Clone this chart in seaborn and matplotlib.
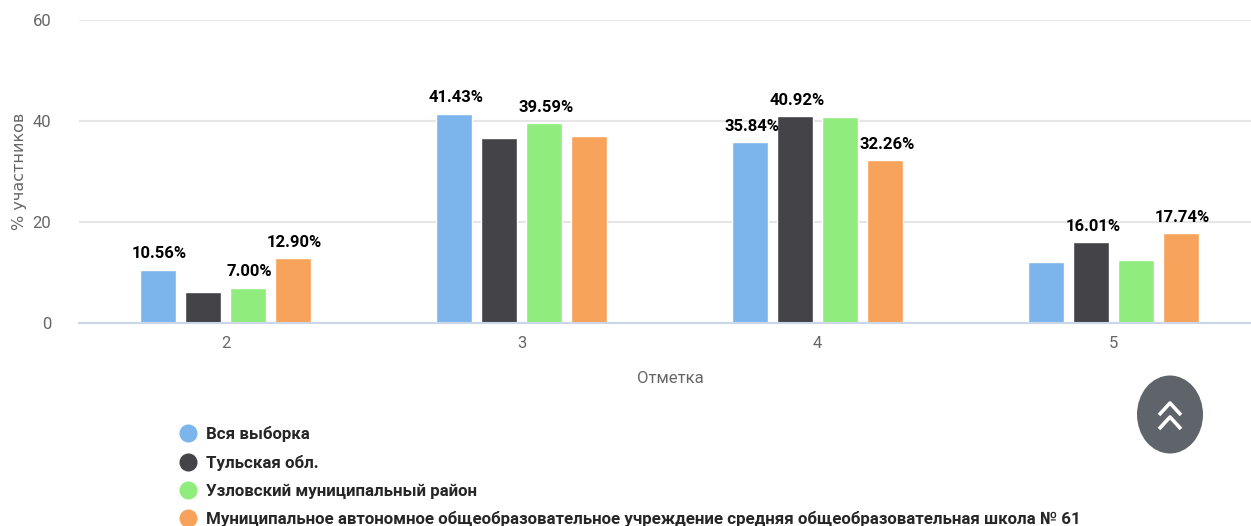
import matplotlib
matplotlib.use('Agg')
import matplotlib.pyplot as plt
from matplotlib.lines import Line2D
from matplotlib.patches import Ellipse
import pandas as pd
import seaborn as sns

# values
marks = ['2', '3', '4', '5']
vsya = [10.56, 41.43, 35.84, 12.0]
tula = [6.2, 36.7, 40.92, 16.01]
uzlov = [7.00, 39.59, 40.7, 12.4]
school = [12.90, 37.0, 32.26, 17.74]
series_names = ['Вся выборка', 'Тульская обл.', 'Узловский муниципальный район',
                'Муниципальное автономное общеобразовательное учреждение средняя общеобразовательная школа № 61']
colors = ['#7cb5ec', '#434348', '#90ed7d', '#f7a35c']

# only some of the bars have a label in the picture
labels_vsya = ['10.56%', '41.43%', '35.84%', '']
labels_tula = ['', '', '40.92%', '16.01%']
labels_uzlov = ['7.00%', '39.59%', '', '']
labels_school = ['12.90%', '', '32.26%', '17.74%']

sns.set_theme(style='white')
plt.rcParams['font.family'] = ['Roboto', 'DejaVu Sans']

df = pd.DataFrame({'mark': marks * 4,
                   'pct': vsya + tula + uzlov + school,
                   'series': sum([[n] * 4 for n in series_names], [])})

fig = plt.figure(figsize=(12.51, 5.26), dpi=100)
ax = fig.add_axes([79 / 1251, 1 - 323 / 526, 1 - 79 / 1251, 303 / 526])

sns.barplot(data=df, x='mark', y='pct', hue='series', order=marks, hue_order=series_names,
            palette=colors, width=0.608, gap=0.2, saturation=1, legend=False, ax=ax)

for cont, labs in zip(ax.containers, [labels_vsya, labels_tula, labels_uzlov, labels_school]):
    texts = ax.bar_label(cont, labels=labs, padding=6, fontsize=12, fontweight='bold', color='#000000')
    # labels sit a little right of the bar centre
    for t in texts:
        t.xyann = (1.2, t.xyann[1])

ax.set_xlim(-0.495, 3.464)
ax.set_ylim(0, 60)
ax.set_yticks([0, 20, 40, 60])
ax.yaxis.grid(True, color='#e6e6e6', lw=1.5)
ax.set_axisbelow(True)
sns.despine(ax=ax, left=True, right=True, top=True)
ax.spines['bottom'].set_color('#ccd6eb')
ax.spines['bottom'].set_linewidth(1.5)
ax.tick_params(axis='both', length=0, labelsize=12, labelcolor='#666666')
ax.tick_params(axis='x', pad=9)
ax.tick_params(axis='y', pad=20)

ax.set_ylabel('% участников', fontsize=11.5, color='#666666', family='DejaVu Sans')
ax.yaxis.set_label_coords(-52 / 1172, 0.5)
ax.set_xlabel('Отметка', fontsize=12, color='#666666')
ax.xaxis.set_label_coords((670 - 79) / 1172, -48 / 303)

handles = [Line2D([], [], ls='none', marker='o', ms=12, color=c) for c in colors]
fig.legend(handles, series_names, loc='upper left', bbox_to_anchor=(171 / 1251, 1 - 426 / 526),
           frameon=False, labelspacing=0.75, handletextpad=0.06, borderpad=0,
           borderaxespad=0, prop={'weight': 'bold', 'size': 12.2})

# round "back to top" button, in pixel coordinates of the picture
over = fig.add_axes([0, 0, 1, 1])
over.set_xlim(0, 1251)
over.set_ylim(526, 0)
over.axis('off')
over.add_patch(Ellipse((1170, 414.5), 66, 78, color='#5f646b', lw=0))
for y0 in (415, 429):
    over.plot([1159, 1170, 1181], [y0, y0 - 12, y0], color='white', lw=2.6, solid_capstyle='butt')

plt.savefig('out.png', dpi=100)
plt.close()
